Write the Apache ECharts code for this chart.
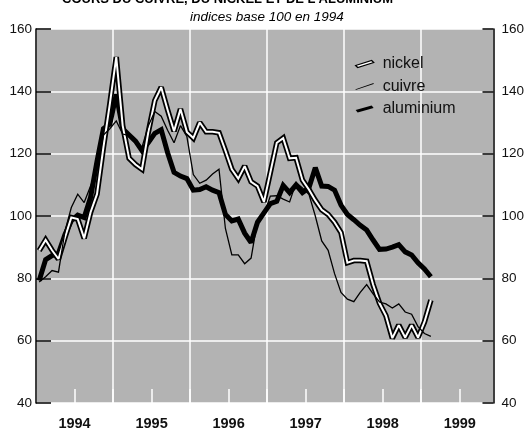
<!DOCTYPE html>
<html>
<head>
<meta charset="utf-8">
<script src="https://cdn.jsdelivr.net/npm/echarts@6/dist/echarts.min.js"></script>
<style>
html, body { margin: 0; padding: 0; background: #fff; }
#main { width: 527px; height: 431px; }
</style>
</head>
<body>
<div id="main"></div>
<script>
// indices base 100 en 1994, une valeur par mois de janvier 1994 a fevrier 1999
var yearLabels = ['1994', '1995', '1996', '1997', '1998', '1999'];

var nickel = [88.9, 92.3, 89, 86.2, 93, 99.5, 99, 92.8, 101.2, 107,
	122, 136, 151, 129, 118.5, 116.5, 115, 127, 137, 141.3,
	134, 127.2, 134.3, 127, 125, 130, 127, 127, 126.7, 121,
	115, 112, 116, 111, 109.6, 104.5, 114, 123.5, 125, 118.5,
	118.7, 111.5, 108.5, 105, 102, 100.5, 98, 94.7, 85, 85.7,
	85.7, 85.5, 78, 72, 68, 60.8, 65, 61, 65, 61,
	66, 73];

var cuivre = [78.8, 80.5, 82.5, 82, 95, 102.7, 107, 104.3, 109.6, 115,
	126, 128, 130.5, 126.3, 125.8, 124.5, 122, 129, 133.5, 132,
	127.5, 123.5, 129, 125.5, 113.3, 110.5, 111.5, 113.5, 115, 96,
	87.5, 87.5, 84.7, 86.5, 98.5, 100.5, 106.4, 106.5, 105.4, 104.5,
	110.7, 109, 107, 100, 92, 89, 81.5, 75.5, 73.3, 72.5,
	75.5, 78, 75, 72.4, 71.8, 70.5, 71.8, 69.2, 68.5, 64.5,
	62.3, 61.4];

var aluminium = [79.3, 86, 87.3, 88, 94, 98.5, 100.3, 99.5, 106, 117.5,
	128, 129.5, 139, 128, 126, 124, 121, 123.6, 126.5, 127.7,
	120.3, 114, 112.8, 112, 108.3, 108.5, 109.4, 108.3, 107.5, 100.5,
	98.4, 99, 94.5, 91.5, 98, 101, 104, 104.7, 109.8, 107.5,
	110, 107.5, 109, 115.5, 109.6, 109.5, 108.3, 103.5, 100.5, 98.8,
	97, 95.5, 92.3, 89.3, 89.4, 90, 90.8, 88.5, 87.5, 85,
	83, 80.5];

var font = "'Liberation Sans', Arial, sans-serif";

function toPoints(values) {
	return values.map(function (v, i) { return [i + 0.5, v]; });
}

var chart = echarts.init(document.getElementById('main'));
chart.setOption({
	animation: false,
	backgroundColor: '#fff',
	title: [
		{
			text: "COURS DU CUIVRE, DU NICKEL ET DE L'ALUMINIUM",
			left: 62,
			top: -7,
			padding: 0,
			textStyle: { fontFamily: font, fontWeight: 'bold', fontSize: 13, color: '#000' }
		},
		{
			text: 'indices base 100 en 1994',
			left: 190,
			top: 10,
			padding: 0,
			textStyle: { fontFamily: font, fontStyle: 'italic', fontWeight: 'normal', fontSize: 13.5, color: '#000' }
		}
	],
	legend: {
		orient: 'vertical',
		left: 350,
		top: 51,
		itemWidth: 18,
		itemHeight: 7,
		itemGap: 6.5,
		textStyle: { fontFamily: font, fontSize: 16, lineHeight: 16, color: '#111', padding: [0, 0, 0, 4] },
		data: [
			{ name: 'nickel', icon: 'path://M0,5 L16,0 L18,2 L2,7 Z', itemStyle: { color: '#fff', borderColor: '#000', borderWidth: 1.3 } },
			{ name: 'cuivre', icon: 'path://M0,6.3 L18,0 L18,0.9 L0,7 Z', itemStyle: { color: '#000', borderWidth: 0 } },
			{ name: 'aluminium', icon: 'path://M0,4.5 L16,0 L18,2.5 L2,7 Z', itemStyle: { color: '#000', borderWidth: 0 } }
		]
	},
	grid: {
		left: 36,
		right: 29,
		top: 29,
		bottom: 27,
		show: true,
		backgroundColor: '#b3b3b3',
		borderWidth: 0
	},
	xAxis: [
		{
			type: 'value',
			position: 'top',
			min: 0,
			max: 71.25,
			interval: 12,
			axisLine: { show: false },
			axisTick: { show: false },
			axisLabel: { show: false },
			splitLine: { show: true, lineStyle: { color: '#fff', width: 1.5 } }
		},
		{
			type: 'value',
			position: 'bottom',
			min: 0,
			max: 71.25,
			interval: 6,
			axisLine: { show: false },
			axisTick: { show: true, inside: true, length: 14, lineStyle: { color: '#fff', width: 1.5 } },
			axisLabel: {
				margin: 13,
				fontFamily: font,
				fontWeight: 'bold',
				fontSize: 14.5,
				color: '#111',
				showMaxLabel: false,
				formatter: function (v) {
					var k = (v - 6) / 12;
					var r = Math.round(k);
					return (Math.abs(k - r) < 1e-6 && r >= 0) ? yearLabels[r] : '';
				}
			},
			splitLine: { show: false }
		}
	],
	yAxis: [
		{
			type: 'value',
			position: 'left',
			min: 40,
			max: 160,
			interval: 20,
			axisLine: { show: false },
			axisTick: { show: false },
			axisLabel: { show: false },
			splitLine: { show: true, lineStyle: { color: '#fff', width: 1.5 } }
		},
		{
			type: 'value',
			position: 'left',
			z: 8,
			min: 40,
			max: 160,
			interval: 20,
			axisLine: { show: true, lineStyle: { color: '#000', width: 1.5 } },
			axisTick: { show: true, inside: true, length: 15, lineStyle: { color: '#000', width: 1.5 } },
			axisLabel: { margin: 4, fontFamily: font, fontSize: 13.5, color: '#111' },
			splitLine: { show: false }
		},
		{
			type: 'value',
			position: 'right',
			z: 8,
			min: 40,
			max: 160,
			interval: 20,
			axisLine: { show: true, lineStyle: { color: '#000', width: 1.5 } },
			axisTick: { show: true, inside: true, length: 11, lineStyle: { color: '#000', width: 1.5 } },
			axisLabel: { margin: 8, fontFamily: font, fontSize: 13.5, color: '#111' },
			splitLine: { show: false }
		}
	],
	series: [
		{
			name: 'aluminium',
			type: 'line',
			xAxisIndex: 1,
			yAxisIndex: 0,
			z: 2,
			symbol: 'none',
			color: '#000',
			lineStyle: { color: '#000', width: 5, join: 'miter', miterLimit: 2 },
			data: toPoints(aluminium)
		},
		{
			name: 'nickel_contour',
			type: 'line',
			xAxisIndex: 1,
			yAxisIndex: 0,
			z: 3,
			symbol: 'none',
			color: '#000',
			lineStyle: { color: '#000', width: 5.5, join: 'miter', miterLimit: 2 },
			data: toPoints(nickel)
		},
		{
			name: 'nickel',
			type: 'line',
			xAxisIndex: 1,
			yAxisIndex: 0,
			z: 4,
			symbol: 'none',
			color: '#fff',
			lineStyle: { color: '#fff', width: 2, join: 'miter', miterLimit: 2 },
			data: toPoints(nickel)
		},
		{
			name: 'cuivre',
			type: 'line',
			xAxisIndex: 1,
			yAxisIndex: 0,
			z: 5,
			symbol: 'none',
			color: '#000',
			lineStyle: { color: '#000', width: 1.3, join: 'miter', miterLimit: 2 },
			data: toPoints(cuivre)
		}
	]
});
</script>
</body>
</html>
